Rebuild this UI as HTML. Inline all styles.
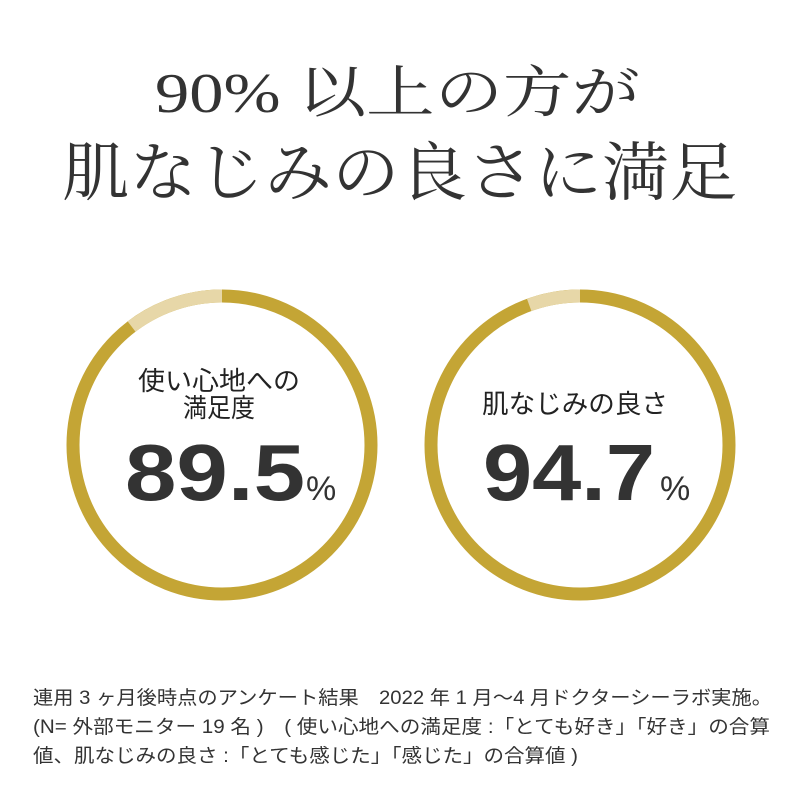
<!DOCTYPE html>
<html><head><meta charset="utf-8"><style>
html,body{margin:0;padding:0;background:#fff;}
svg{display:block}
</style></head><body>
<svg width="800" height="800" viewBox="0 0 800 800" xmlns="http://www.w3.org/2000/svg">
<rect width="800" height="800" fill="#fff"/>
<g font-family="'Liberation Serif','Noto Serif CJK SC',serif" fill="#333">
<text x="155" y="112" font-size="56" textLength="485" lengthAdjust="spacingAndGlyphs">90% 以上の方が</text>
<text x="62" y="195" font-size="64" textLength="675" lengthAdjust="spacingAndGlyphs">肌なじみの良さに満足</text>
</g>
<!-- circles -->
<g fill="none" stroke-width="13">
<circle cx="222" cy="445" r="149" stroke="#c4a535"/>
<circle cx="580" cy="445" r="149" stroke="#c4a535"/>
</g>
<path d="M222 296 A149 149 0 0 0 131.6 326.6" fill="none" stroke="#e7d7a8" stroke-width="13"/>
<path d="M580 296 A149 149 0 0 0 529.2 305" fill="none" stroke="#e7d7a8" stroke-width="13"/>
<g font-family="'Liberation Sans','Noto Sans CJK JP',sans-serif" fill="#222">
<text x="138" y="390" font-size="26" textLength="162" lengthAdjust="spacingAndGlyphs">使い心地への</text>
<text x="183" y="417" font-size="26" textLength="72" lengthAdjust="spacingAndGlyphs">満足度</text>
<text x="125" y="500" font-size="80" font-weight="bold" fill="#333" textLength="180" lengthAdjust="spacingAndGlyphs">89.5</text>
<text x="306" y="500" font-size="34" fill="#333">%</text>
<text x="482" y="413" font-size="26" textLength="186" lengthAdjust="spacingAndGlyphs">肌なじみの良さ</text>
<text x="483" y="500" font-size="80" font-weight="bold" fill="#333" textLength="172" lengthAdjust="spacingAndGlyphs">94.7</text>
<text x="660" y="500" font-size="34" fill="#333">%</text>
</g>
<g font-family="'Liberation Sans','Noto Sans CJK JP',sans-serif" fill="#333" font-size="19">
<text x="33" y="704" textLength="739" lengthAdjust="spacingAndGlyphs">連用 3 ヶ月後時点のアンケート結果　2022 年 1 月～4 月ドクターシーラボ実施。</text>
<text x="33" y="733" textLength="737" lengthAdjust="spacingAndGlyphs">(N= 外部モニター 19 名 )　( 使い心地への満足度 :「とても好き」「好き」の合算</text>
<text x="33" y="762" textLength="545" lengthAdjust="spacingAndGlyphs">値、肌なじみの良さ :「とても感じた」「感じた」の合算値 )</text>
</g>
</svg>
</body></html>
